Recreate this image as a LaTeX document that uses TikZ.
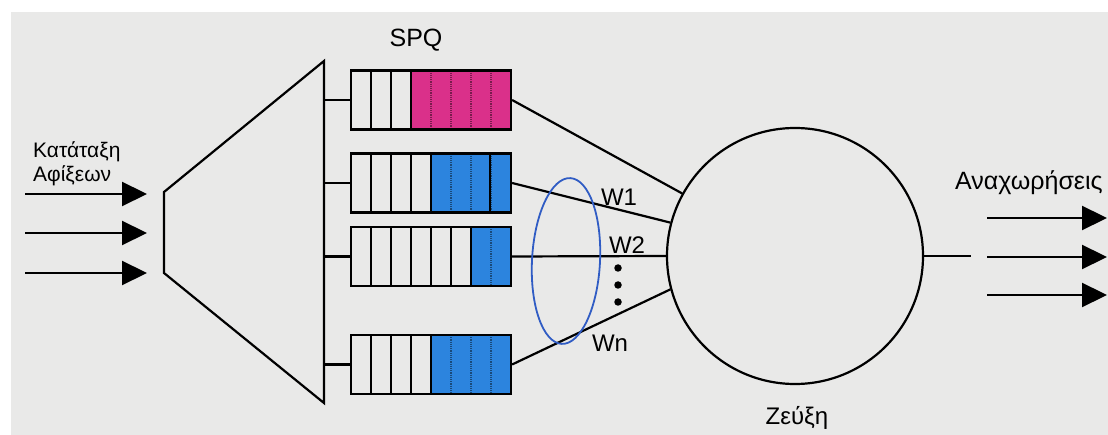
\documentclass[tikz,border=0pt]{standalone}
\usepackage{fontspec}
\setmainfont{Liberation Sans}
\usetikzlibrary{arrows.meta,shapes.geometric,calc}

\definecolor{paper}{RGB}{233,233,232}
\definecolor{spqpink}{RGB}{218,48,138}
\definecolor{spqblue}{RGB}{44,132,222}
\definecolor{loopblue}{RGB}{48,92,196}

\tikzset{
  wire/.style={line width=2.2pt, black},
  cellbar/.style={line width=2.2pt, black},
  celldots/.style={line width=1.4pt, dash pattern=on 1.2pt off 1pt},
  queuebox/.style={draw, line width=2.2pt, minimum width=160pt, minimum height=59pt, inner sep=0pt},
  flow/.style={line width=2.2pt, -{Triangle[length=25pt,width=24pt]}},
  lbl/.style={font=\fontsize{24}{27}\selectfont, inner sep=0pt},
}

% one priority queue: name, centre y, number of empty cells, colour of the filled part
\newcommand\spqrow[4]{%
  \fill[#4] ({351+20*#3},{#2-29.5}) rectangle (511,{#2+29.5});
  \foreach \k in {1,...,7}{%
    \pgfmathtruncatemacro\isplain{\k<=#3}%
    \ifnum\isplain=1
      \draw[cellbar] ({351+20*\k},{#2-29.5}) -- ({351+20*\k},{#2+29.5});
    \else
      \draw[celldots,#4!55!black] ({351+20*\k},{#2-29.5}) -- ({351+20*\k},{#2+29.5});
    \fi}%
  \node[queuebox] (#1) at (431,#2) {};}

\begin{document}
\begin{tikzpicture}[x=1pt,y=-1pt]
  \useasboundingbox (0,0) rectangle (1108,435);
  \clip (0,0) rectangle (1108,435);
  \fill[white] (0,0) rectangle (1108,435);
  \fill[paper] (11,12) rectangle (1108,435);

  % classifier
  \coordinate (tzA) at (164,192);
  \coordinate (tzB) at (324,61);
  \coordinate (tzC) at (324,403);
  \coordinate (tzD) at (164,273);
  \draw[wire, line join=miter] (tzA) -- (tzB) -- (tzC) -- (tzD) -- cycle;

  % incoming traffic
  \foreach \y [count=\i] in {194,233,273}{
    \coordinate (in\i s) at (25,\y);
    \coordinate (in\i e) at (147,\y);
    \draw[flow] (in\i s) -- (in\i e);
  }
  \node[align=left, anchor=west, inner sep=0pt, font=\fontsize{21}{24}\selectfont] (arrive) at (33,164) {Κατάταξη\\Αφίξεων};

  % queues
  \spqrow{q1}{100}{3}{spqpink}
  \spqrow{q2}{183}{4}{spqblue}
  \draw[cellbar] ($(q2.north west)+(140,0)$) -- ($(q2.south west)+(140,0)$);
  \spqrow{q3}{256.5}{6}{spqblue}
  \spqrow{q4}{364.5}{4}{spqblue}
  \node[lbl, font=\fontsize{25}{28}\selectfont] (spq) at (416,40) {SPQ};

  \foreach \q in {q1,q2,q3,q4}
    \draw[wire] (\q.west -| tzB) -- (\q.west);

  % link
  \node[circle, draw, line width=2.2pt, minimum size=256pt, inner sep=0pt] (link) at (795,256) {};
  \draw[wire] (q1.east) -- (link.151.6);
  \draw[wire] (q2.east) -- (link.165.4);
  \draw[wire] (q3.east) -- (link.180);
  \draw[wire] (q4.east) -- (link.195.2);
  \node[lbl] (zeuxi) at (797,418) {Ζεύξη};

  % weighted group
  \node[ellipse, draw=loopblue, line width=1.8pt, minimum width=68pt, minimum height=166pt, inner sep=0pt, rotate=-3] (grp) at (566,261) {};
  \node[lbl] (w1) at (619,197) {W1};
  \node[lbl] (w2) at (627,245) {W2};
  \node[lbl] (wn) at (610,343) {Wn};
  \foreach \y [count=\i] in {268,285,302}
    \node[circle, fill, inner sep=0pt, minimum size=7.5pt] (dot\i) at (618,\y) {};

  % outgoing traffic
  \coordinate (outend) at (971,256);
  \draw[wire] (link.east) -- (outend);
  \foreach \y [count=\i] in {218,257,295}{
    \coordinate (out\i s) at (987,\y);
    \coordinate (out\i e) at (1107,\y);
    \draw[flow] (out\i s) -- (out\i e);
  }
  \node[lbl, anchor=west, font=\fontsize{25}{28}\selectfont] (depart) at (955,183) {Αναχωρήσεις};
\end{tikzpicture}
\end{document}
